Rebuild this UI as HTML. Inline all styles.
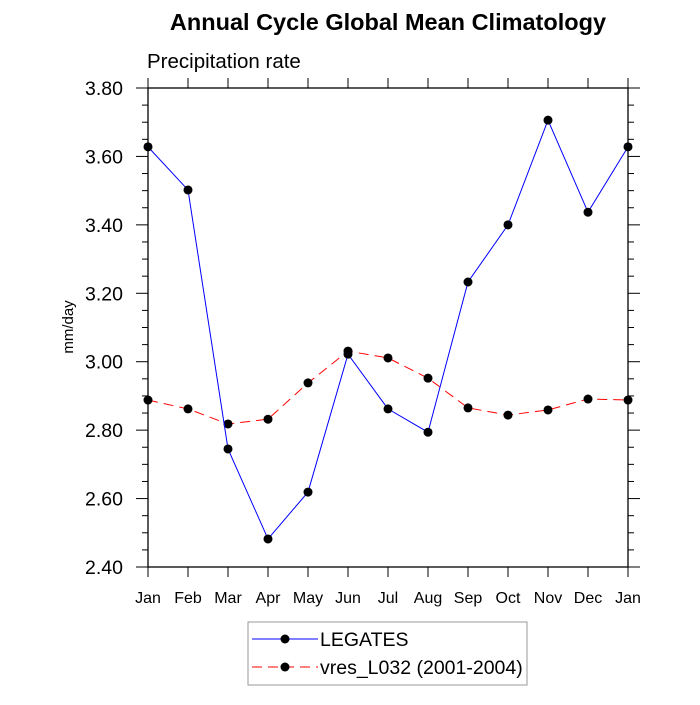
<!DOCTYPE html>
<html><head><meta charset="utf-8"><style>body{margin:0;background:#fff}svg{font-family:"Liberation Sans",sans-serif}</style></head>
<body>
<svg id="c" width="700" height="700">
<text x="388" y="30" text-anchor="middle" font-size="23.5" font-weight="bold">Annual Cycle Global Mean Climatology</text>
<text x="147" y="68" font-size="20.5">Precipitation rate</text>
<text transform="translate(73,327) rotate(-90)" text-anchor="middle" font-size="15">mm/day</text>
<g id="ax"></g>
<g id="marks"></g>
<rect x="248" y="622" width="279" height="63" fill="none" stroke="#999"/>
<g><line x1="252" y1="639" x2="318" y2="639" stroke="#00f"/><circle cx="285" cy="639" r="4.5"/><text x="320" y="646" font-size="19.5">LEGATES</text></g>
<g><line x1="252" y1="667" x2="318" y2="667" stroke="#f00" stroke-dasharray="10,6"/><circle cx="285" cy="667" r="4.5"/><text x="320" y="674" font-size="19.5">vres_L032 (2001-2004)</text></g>
</svg>
<script>
const months=["Jan","Feb","Mar","Apr","May","Jun","Jul","Aug","Sep","Oct","Nov","Dec","Jan"];
const legates=[3.628,3.502,2.745,2.482,2.619,3.022,2.862,2.794,3.233,3.400,3.706,3.437,3.628];
const vres=[2.888,2.862,2.818,2.832,2.938,3.031,3.011,2.952,2.865,2.844,2.859,2.891,2.888];
const yTicks=["2.40","2.60","2.80","3.00","3.20","3.40","3.60","3.80"];
const L=148,R=628,T=88,B=567,ymin=2.4,ymax=3.8;
const X=i=>L+i*(R-L)/(months.length-1);
const Y=v=>B-(v-ymin)/(ymax-ymin)*(B-T);
const NS="http://www.w3.org/2000/svg";
function mk(t,a,p){const e=document.createElementNS(NS,t);for(const k in a)e.setAttribute(k,a[k]);p.appendChild(e);return e;}
const ax=document.getElementById('ax'),mg=document.getElementById('marks');
const fr=mk('rect',{x:L,y:T,width:R-L,height:B-T,fill:'none',stroke:'#000','stroke-width':1.3},ax);


months.forEach((m,i)=>{const x=X(i);
mk('line',{x1:x,y1:B,x2:x,y2:B+10,stroke:'#000'},ax);
mk('line',{x1:x,y1:T,x2:x,y2:T-10,stroke:'#000'},ax);
const t=mk('text',{x:x,y:B+36,'text-anchor':'middle','font-size':16},ax);t.textContent=m;

});
for(let v=ymin;v<=ymax+1e-9;v+=0.05){const y=Y(v);const maj=Math.abs(Math.round(v*5)-v*5)<1e-6;const len=maj?12:6;
mk('line',{x1:L,y1:y,x2:L-len,y2:y,stroke:'#000'},ax);
mk('line',{x1:R,y1:y,x2:R+len,y2:y,stroke:'#000'},ax);}
yTicks.forEach(s=>{const t=mk('text',{x:L-25,y:Y(+s)+7,'text-anchor':'end','font-size':19.5},ax);t.textContent=s;

});
function series(d,col,dash,name){const p=mk('polyline',{points:d.map((v,i)=>X(i)+','+Y(v)).join(' '),fill:'none',stroke:col,'stroke-dasharray':dash},mg);


d.forEach((v,i)=>{const c=mk('circle',{cx:X(i),cy:Y(v),r:4.5},mg);

});}
series(vres,'#f00','10,6','vres');
series(legates,'#00f','none','legates');
</script>
</body></html>
